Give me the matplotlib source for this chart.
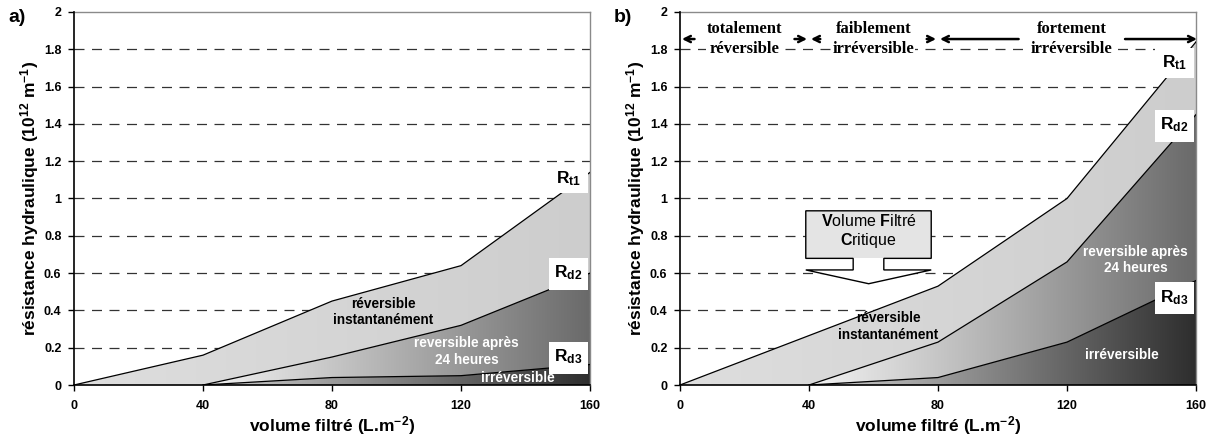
import numpy as np
import matplotlib
matplotlib.use("Agg")
import matplotlib.pyplot as plt
from matplotlib.colors import LinearSegmentedColormap
from matplotlib.patches import Polygon, Rectangle

plt.rcParams['font.family'] = ['Liberation Sans', 'DejaVu Sans']
plt.rcParams['mathtext.fontset'] = 'custom'
plt.rcParams['mathtext.rm'] = 'Liberation Sans'
plt.rcParams['mathtext.bf'] = 'Liberation Sans:bold'
plt.rcParams['mathtext.it'] = 'Liberation Sans:italic'
plt.rcParams['hatch.color'] = '#c4c4c4'
plt.rcParams['hatch.linewidth'] = 0.6

# ---------------- data ----------------
volume = [0, 40, 80, 120, 160]
rt1_a = [0, 0.16, 0.45, 0.64, 1.14]
rd2_a = [0, 0, 0.15, 0.32, 0.60]
rd3_a = [0, 0, 0.04, 0.05, 0.11]
rt1_b = [0, 0.265, 0.53, 1.00, 1.84]
rd2_b = [0, 0, 0.23, 0.66, 1.45]
rd3_b = [0, 0, 0.04, 0.23, 0.56]
yticks = [0, 0.2, 0.4, 0.6, 0.8, 1, 1.2, 1.4, 1.6, 1.8, 2]
ytick_labels = ['0', '0.2', '0.4', '0.6', '0.8', '1', '1.2', '1.4', '1.6', '1.8', '2']
xticks = [0, 40, 80, 120, 160]
labels_R = [r'$\mathbf{R_{t1}}$', r'$\mathbf{R_{d2}}$', r'$\mathbf{R_{d3}}$']
box_a = [(1.027, 1.18), (0.51, 0.68), (0.06, 0.23)]
box_b = [(1.645, 1.805), (1.305, 1.475), (0.38, 0.55)]
zones = ['totalement\nréversible', 'faiblement\nirréversible', 'fortement\nirréversible']
zone_bounds = [(0, 40), (40, 80), (80, 160)]

fig = plt.figure(figsize=(12.12, 4.36), dpi=100)
axa = fig.add_axes([74/1212, 51/436, 516/1212, 373/436])
axb = fig.add_axes([680/1212, 51/436, 516/1212, 373/436])

cm_top = LinearSegmentedColormap.from_list('top', ['#dedede', '#cdcdcd'])
cm_mid = LinearSegmentedColormap.from_list('mid', ['#f4f4f4', '#6a6a6a'])
cm_bot = LinearSegmentedColormap.from_list('bot', ['#d2d2d2', '#2e2e2e'])
grad = np.linspace(0, 1, 256).reshape(1, -1)


def gradient_fill(ax, verts, cmap, x0, x1, z):
    poly = Polygon(verts, closed=True, facecolor='none', edgecolor='none')
    ax.add_patch(poly)
    im = ax.imshow(grad, cmap=cmap, extent=[x0, x1, 0, 2], aspect='auto',
                   origin='lower', zorder=z, interpolation='bilinear')
    im.set_clip_path(poly)


def draw_panel(ax, rt1, rd2, rd3, boxes):
    x = np.array(volume, float)
    rt1 = np.array(rt1); rd2 = np.array(rd2); rd3 = np.array(rd3)
    top = list(zip(x, rt1)) + list(zip(x[::-1], rd2[::-1]))
    mid = list(zip(x[1:], rd2[1:])) + list(zip(x[1:][::-1], rd3[1:][::-1]))
    bot = list(zip(x[1:], rd3[1:])) + [(160, 0), (40, 0)]
    gradient_fill(ax, top, cm_top, 0, 160, 2)
    gradient_fill(ax, mid, cm_mid, 40, 160, 2)
    gradient_fill(ax, bot, cm_bot, 40, 160, 2)
    ax.plot(x, rt1, color='black', lw=0.9, zorder=3)
    ax.plot(x[1:], rd2[1:], color='black', lw=0.9, zorder=3)
    ax.plot(x[1:], rd3[1:], color='black', lw=0.9, zorder=3)
    ax.set_xlim(0, 160)
    ax.set_ylim(0, 2)
    for yv in yticks[1:-1]:
        ax.axhline(yv, color='#333333', lw=0.9, dashes=(8, 6), zorder=1)
    ax.set_yticks(yticks)
    ax.set_yticklabels(ytick_labels, fontweight='bold', fontsize=9)
    ax.set_xticks(xticks)
    ax.set_xticklabels([str(v) for v in xticks], fontweight='bold', fontsize=9)
    ax.tick_params(direction='out', length=4, width=1, pad=5)
    ax.tick_params(axis='x', pad=7)
    for s in ['left', 'bottom']:
        ax.spines[s].set_color('black'); ax.spines[s].set_linewidth(1.2)
        ax.spines[s].set_zorder(6)
    for s in ['top', 'right']:
        ax.spines[s].set_color('#8a8a8a'); ax.spines[s].set_linewidth(1.0)
    ax.set_xlabel('volume filtré (L.m$^{\\mathbf{-2}}$)', fontweight='bold', fontsize=12.5,
                  labelpad=1)
    ax.set_ylabel('résistance hydraulique (10$^{\\mathbf{12}}$ m$^{\\mathbf{-1}}$)',
                  fontweight='bold', fontsize=12.5, labelpad=2)
    for lab, (y0, y1) in zip(labels_R, boxes):
        ax.add_patch(Rectangle((147.2, y0), 12.2, y1 - y0, facecolor='white',
                               edgecolor='none', zorder=4))
        ax.text(153.3, (y0 + y1) / 2 + 0.005, lab, fontsize=12.5, ha='center',
                va='center', zorder=5)


draw_panel(axa, rt1_a, rd2_a, rd3_a, box_a)
draw_panel(axb, rt1_b, rd2_b, rd3_b, box_b)

fs_reg = 9.8
# region texts panel a
axa.text(96, 0.393, 'réversible\ninstantanément', fontsize=fs_reg, fontweight='bold',
         ha='center', va='center', color='black', zorder=5, linespacing=1.2)
axa.text(121.8, 0.18, 'reversible après\n24 heures', fontsize=fs_reg, fontweight='bold',
         ha='center', va='center', color='white', zorder=5, linespacing=1.2)
axa.text(137.7, 0.035, 'irréversible', fontsize=fs_reg, fontweight='bold',
         ha='center', va='center', color='white', zorder=5)

# region texts panel b
axb.text(64.5, 0.314, 'réversible\ninstantanément', fontsize=fs_reg, fontweight='bold',
         ha='center', va='center', color='black', zorder=5, linespacing=1.2)
axb.text(141.3, 0.67, 'reversible après\n24 heures', fontsize=fs_reg, fontweight='bold',
         ha='center', va='center', color='white', zorder=5, linespacing=1.2)
axb.text(137.1, 0.16, 'irréversible', fontsize=fs_reg, fontweight='bold',
         ha='center', va='center', color='white', zorder=5)

# zone arrows panel b
ya = 1.855
centers = [20, 60, 121.5]
halfw = [14.0, 15.0, 15.0]
for (x0, x1), c, hw, txt in zip(zone_bounds, centers, halfw, zones):
    axb.text(c, ya, txt, family=['Liberation Serif'], fontweight='bold', fontsize=12,
             ha='center', va='center', zorder=8, linespacing=1.35,
             bbox=dict(facecolor='white', edgecolor='none', pad=0.5))
    axb.annotate('', xy=(x0 + 0.6, ya), xytext=(c - hw - 1.5, ya),
                 arrowprops=dict(arrowstyle='->', lw=1.8, color='black',
                                 shrinkA=0, shrinkB=0, mutation_scale=11),
                 zorder=9, annotation_clip=False)
    axb.annotate('', xy=(x1 - 0.6 if x1 < 160 else x1 + 0.3, ya), xytext=(c + hw + 1.5, ya),
                 arrowprops=dict(arrowstyle='->', lw=1.8, color='black',
                                 shrinkA=0, shrinkB=0, mutation_scale=11),
                 zorder=9, annotation_clip=False)

# critical volume callout
outline = [(39, 0.934), (77.9, 0.934), (77.9, 0.679), (63.2, 0.679), (63.2, 0.617),
           (77.9, 0.617), (58.5, 0.543), (39, 0.617), (53.7, 0.617), (53.7, 0.679),
           (39, 0.679)]
axb.add_patch(Polygon(outline, closed=True, facecolor='white', edgecolor='none', zorder=6))
axb.add_patch(Rectangle((39, 0.679), 38.9, 0.255, facecolor='#e4e4e4', edgecolor='none',
                        zorder=6, hatch='....', linewidth=0))
axb.add_patch(Polygon(outline, closed=True, facecolor='none', edgecolor='black', lw=1.0,
                      zorder=7))
axb.text(58.5, 0.88, r'$\mathbf{V}$olume $\mathbf{F}$iltré', fontsize=11.5, ha='center',
         va='center', zorder=8)
axb.text(58.5, 0.775, r'$\mathbf{C}$ritique', fontsize=11.5, ha='center', va='center',
         zorder=8)

fig.text(8/1212, 1 - 17/436, 'a)', fontsize=14, fontweight='bold', va='center', ha='left')
fig.text(614/1212, 1 - 17/436, 'b)', fontsize=14, fontweight='bold', va='center', ha='left')

fig.savefig('out.png', dpi=100)
